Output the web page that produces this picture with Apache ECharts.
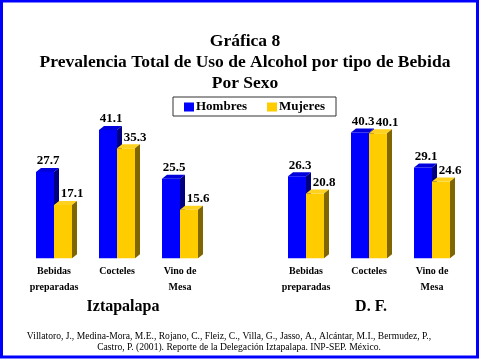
<!DOCTYPE html>
<html>
<head>
<meta charset="utf-8">
<script src="https://cdn.jsdelivr.net/npm/echarts@6/dist/echarts.min.js"></script>
<style>
html,body{margin:0;padding:0;background:#fff;}
#chart{width:480px;height:360px;}
</style>
</head>
<body>
<div id="chart"></div>
<script>
var categories = ['Bebidas\npreparadas', 'Cocteles', 'Vino de\nMesa'];
var iztHombres = [27.7, 41.1, 25.5];
var iztMujeres = [17.1, 35.3, 15.6];
var dfHombres = [26.3, 40.3, 29.1];
var dfMujeres = [20.8, 40.1, 24.6];
var seriesNames = ['Hombres', 'Mujeres'];
var panelNames = ['Iztapalapa', 'D. F.'];
var titleLines = ['Gráfica 8', 'Prevalencia Total de Uso de Alcohol por tipo de Bebida', 'Por Sexo'];
var citeLines = [
  'Villatoro, J., Medina-Mora, M.E., Rojano, C., Fleiz, C., Villa, G., Jasso, A., Alcántar, M.I., Bermudez, P.,',
  'Castro, P. (2001). Reporte de la Delegación Iztapalapa. INP-SEP. México.'
];

var SERIF = '"Liberation Serif","Times New Roman",serif';
var colors = [
  {front: '#0000FF', top: '#0000DD', side: '#000080'},
  {front: '#FFCC00', top: '#FFD21F', side: '#806600'}
];

function make3D(sex) {
  return function (params, api) {
    var ci = api.value(0), v = api.value(1);
    var base = api.coord([ci, 0]);
    var top = api.coord([ci, v]);
    var band = api.size([1, 0])[0];
    var w = band * 18 / 63;
    var x0 = base[0] + (sex === 0 ? -w : 0);
    var x1 = x0 + w;
    var yT = top[1], yB = base[1];
    var dx = 5, dy = 4;
    var c = colors[sex];
    var off = sex === 0 ? 3 : 9;
    return {
      type: 'group',
      children: [
        {type: 'rect', shape: {x: x0, y: yT, width: w, height: yB - yT}, style: {fill: c.front}},
        {type: 'polygon', shape: {points: [[x0, yT], [x0 + dx, yT - dy], [x1 + dx, yT - dy], [x1, yT]]}, style: {fill: c.top}},
        {type: 'polygon', shape: {points: [[x1, yT], [x1 + dx, yT - dy], [x1 + dx, yB - dy], [x1, yB]]}, style: {fill: c.side}},
        {type: 'text', style: {text: v.toFixed(1), x: (x0 + x1) / 2 + off, y: yT - 11, align: 'center', verticalAlign: 'middle',
          fontFamily: SERIF, fontWeight: 'bold', fontSize: 13, fill: '#000'}}
      ]
    };
  };
}

function toData(arr) { return arr.map(function (v, i) { return [i, v]; }); }

var grids = [
  {left: 22.5, width: 189, top: 102.3, height: 156},
  {left: 274.5, width: 189, top: 102.3, height: 156}
];
var xAxes = [0, 1].map(function (g) {
  return {
    type: 'category', gridIndex: g, data: categories,
    axisLine: {show: false}, axisTick: {show: false}, splitLine: {show: false},
    axisLabel: {fontFamily: SERIF, fontWeight: 'bold', fontSize: 10, color: '#000', lineHeight: 16, margin: 5, interval: 0}
  };
});
var yAxes = [0, 1].map(function (g) {
  return {type: 'value', gridIndex: g, min: 0, max: 50, show: false, splitLine: {show: false}};
});

var panelData = [[iztHombres, iztMujeres], [dfHombres, dfMujeres]];
var series = [];
[0, 1].forEach(function (p) {
  [0, 1].forEach(function (s) {
    series.push({
      type: 'custom', name: seriesNames[s], xAxisIndex: p, yAxisIndex: p,
      data: toData(panelData[p][s]), encode: {x: 0, y: 1},
      itemStyle: {color: colors[s].front},
      renderItem: make3D(s), z: 2 + s
    });
  });
});

var chart = echarts.init(document.getElementById('chart'), null, {renderer: 'canvas'});
chart.setOption({
  backgroundColor: '#fff',
  animation: false,
  title: {
    text: titleLines.join('\n'), left: 240, top: 26, textAlign: 'center',
    textStyle: {fontFamily: SERIF, fontWeight: 'bold', fontSize: 17.5, lineHeight: 21, color: '#000'}
  },
  legend: {
    left: 173, top: 97, orient: 'horizontal',
    padding: [3, 3, 2, 11], itemGap: 8, itemWidth: 10, itemHeight: 9,
    borderColor: '#333', borderWidth: 1, icon: 'rect',
    data: [
      {name: 'Hombres', textStyle: {width: 63}},
      {name: 'Mujeres', textStyle: {width: 54}}
    ],
    textStyle: {fontFamily: SERIF, fontWeight: 'bold', fontSize: 13, lineHeight: 14, color: '#000', padding: [0, 0, 0, -3]}
  },
  grid: grids,
  xAxis: xAxes,
  yAxis: yAxes,
  series: series,
  graphic: [
    {type: 'rect', shape: {x: 1.5, y: 1, width: 476, height: 356}, style: {fill: null, stroke: '#0000FF', lineWidth: 3}, silent: true},
    {type: 'text', x: 123, y: 307, style: {text: panelNames[0], align: 'center', verticalAlign: 'middle', fontFamily: SERIF, fontWeight: 'bold', fontSize: 16, fill: '#000'}},
    {type: 'text', x: 371, y: 307, style: {text: panelNames[1], align: 'center', verticalAlign: 'middle', fontFamily: SERIF, fontWeight: 'bold', fontSize: 16, fill: '#000'}},
    {type: 'text', x: 229, y: 336, style: {text: citeLines[0], align: 'center', verticalAlign: 'middle', fontFamily: SERIF, fontSize: 9.6, fill: '#000'}},
    {type: 'text', x: 239, y: 347.5, style: {text: citeLines[1], align: 'center', verticalAlign: 'middle', fontFamily: SERIF, fontSize: 9.6, fill: '#000'}}
  ]
});
</script>
</body>
</html>
